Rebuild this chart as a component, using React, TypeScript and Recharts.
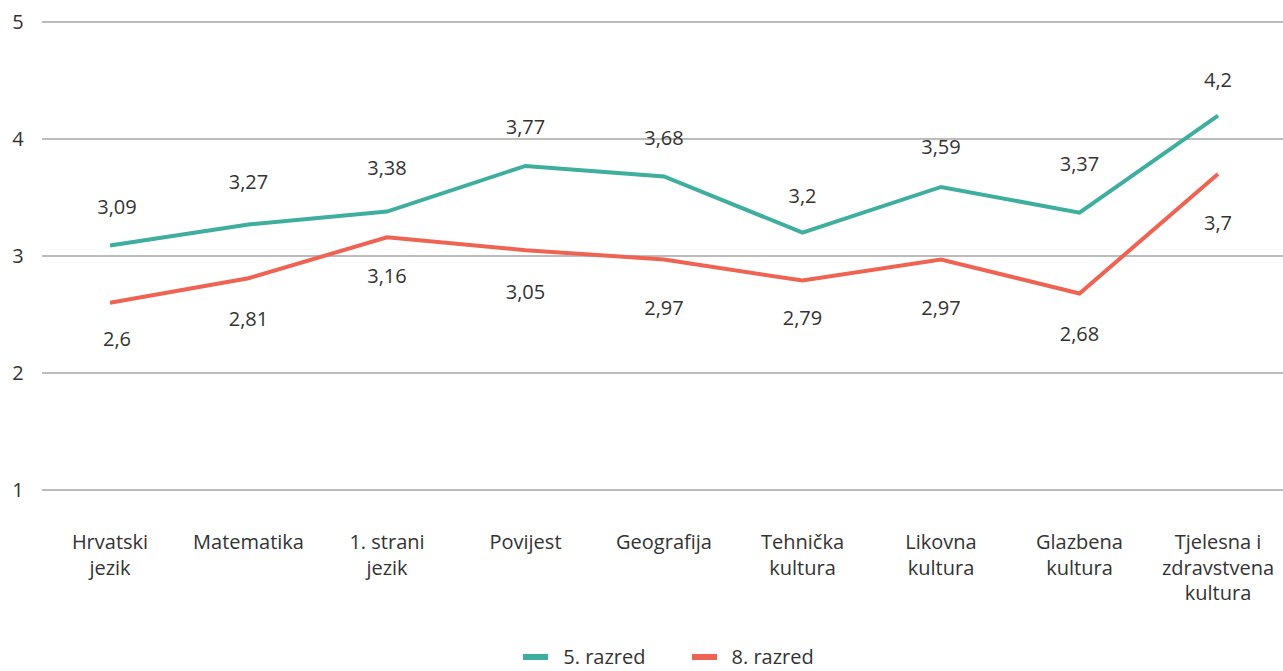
import React from 'react';
import { LineChart, Line, XAxis, YAxis, CartesianGrid, Legend, LabelList } from 'recharts';

const categories = [
  'Hrvatski\njezik',
  'Matematika',
  '1. strani\njezik',
  'Povijest',
  'Geografija',
  'Tehnička\nkultura',
  'Likovna\nkultura',
  'Glazbena\nkultura',
  'Tjelesna i\nzdravstvena\nkultura',
];
const grade5 = [3.09, 3.27, 3.38, 3.77, 3.68, 3.2, 3.59, 3.37, 4.2];
const grade8 = [2.6, 2.81, 3.16, 3.05, 2.97, 2.79, 2.97, 2.68, 3.7];
const yTicks = [1, 2, 3, 4, 5];
const seriesNames = ['5. razred', '8. razred'];

// label nudges (style only): vertical distance of label centre from its point
const labelShift5 = [-38, -42, -44, -39, -38, -37, -40, -49, -36];
const labelShift8 = [36, 41, 39, 42, 48, 37, 48, 41, 49];

const data = categories.map((c, i) => ({ name: c, g5: grade5[i], g8: grade8[i] }));

const TEAL = '#3EAE9F';
const RED = '#EE6352';
const TEXT = '#333333';
const FONT = '"Open Sans", sans-serif';
const FS = 20;

const fmt = (v: number) => String(v).replace('.', ',');

const XTick = (props: any) => {
  const { x, y, payload } = props;
  const lines = String(payload.value).split('\n');
  return (
    <text x={x} y={y + 51} textAnchor="middle" fill={TEXT} fontSize={FS} fontFamily={FONT}>
      {lines.map((l: string, i: number) => (
        <tspan key={i} x={x} dy={i === 0 ? 0 : 25.5}>{l}</tspan>
      ))}
    </text>
  );
};

const YTick = (props: any) => {
  const { y, payload } = props;
  return (
    <text x={18} y={y + 7} textAnchor="middle" fill={TEXT} fontSize={FS} fontFamily={FONT}>
      {payload.value}
    </text>
  );
};

const makeLabel = (shifts: number[]) => (props: any) => {
  const { x, y, value, index } = props;
  const dx = index === 0 ? 7 : 0;
  return (
    <text x={x + dx} y={y + shifts[index] + 7} textAnchor="middle" fill={TEXT} fontSize={FS} fontFamily={FONT}>
      {fmt(value)}
    </text>
  );
};

const LegendContent = () => (
  <div style={{ display: 'flex', justifyContent: 'center', alignItems: 'center', height: 20, lineHeight: '20px', marginTop: 0, fontFamily: FONT, fontSize: FS, color: TEXT, paddingLeft: 54 }}>
    {[TEAL, RED].map((c, i) => (
      <div key={i} style={{ display: 'flex', alignItems: 'center', marginRight: i === 0 ? 46 : 0 }}>
        <svg width={25} height={6} style={{ marginRight: 15 }}>
          <rect x={0} y={0} width={25} height={6} fill={c} />
        </svg>
        <span>{seriesNames[i]}</span>
      </div>
    ))}
  </div>
);

export default function App() {
  return (
    <div style={{ position: 'absolute', left: 0, top: 0, background: '#fff' }}>
      <LineChart width={1283} height={671} data={data} margin={{ top: 22, right: 0, bottom: -2, left: 0 }}>
        <CartesianGrid horizontal={true} vertical={false} stroke="#A6A6A6" strokeWidth={1.5} />
        <XAxis dataKey="name" interval={0} axisLine={false} tickLine={false} height={157} padding={{ left: 68, right: 65 }} tick={<XTick />} />
        <YAxis domain={[1, 5]} ticks={yTicks} width={42} axisLine={false} tickLine={false} tick={<YTick />} />
        <Legend verticalAlign="bottom" height={26} content={<LegendContent />} />
        <Line dataKey="g5" name={seriesNames[0]} stroke={TEAL} strokeWidth={4} dot={false} isAnimationActive={false}>
          <LabelList dataKey="g5" content={makeLabel(labelShift5)} />
        </Line>
        <Line dataKey="g8" name={seriesNames[1]} stroke={RED} strokeWidth={4} dot={false} isAnimationActive={false}>
          <LabelList dataKey="g8" content={makeLabel(labelShift8)} />
        </Line>
      </LineChart>
    </div>
  );
}
